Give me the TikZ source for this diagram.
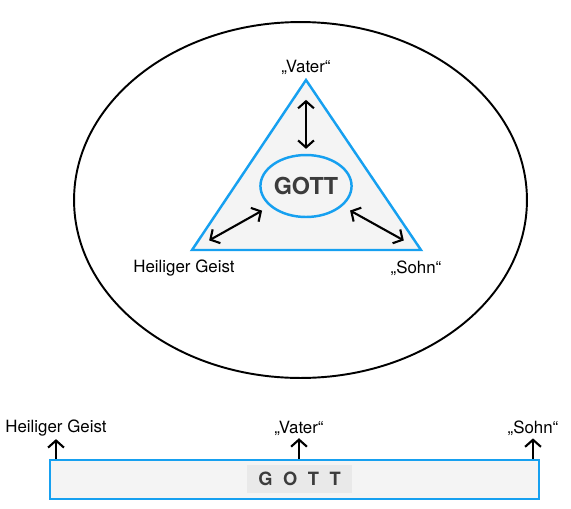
\documentclass[tikz,border=0pt]{standalone}
\usepackage{fontspec}
\setmainfont{TeX Gyre Heros}
\usetikzlibrary{arrows.meta, shapes.geometric}
\definecolor{lineblue}{RGB}{22,160,240}
\definecolor{panel}{RGB}{244,244,244}
\definecolor{gottbox}{RGB}{233,233,233}
\definecolor{gotttext}{RGB}{60,60,60}

\begin{document}
\begin{tikzpicture} [x=0.02cm, y=-0.02cm,
  >={Straight Barb[length=4pt, width=9pt]},
  lab/.style={font=\fontsize{9.6}{11}\selectfont, inner sep=1.5pt},
  arr/.style={line width=1.2pt},
  blueline/.style={draw=lineblue, line width=1.4pt, fill=panel}]
\useasboundingbox (0,0) rectangle (571,508);
\draw [line width=1.1pt] (300.5,200) ellipse [x radius=4.53cm, y radius=3.56cm];
\coordinate (top) at (306,80);
\coordinate (bl) at (192,250);
\coordinate (br) at (421,250);
\draw [blueline] (top) -- (bl) -- (br) -- cycle;
\node [ellipse, draw=lineblue, line width=1.4pt, minimum width=1.7cm, minimum height=1.24cm, inner sep=0pt, text=gotttext, font=\fontsize{13.3}{15}\selectfont\bfseries] (gott) at (306,186) {GOTT};
\node [lab] (vater) at (306,67) {„Vater“};
\node [lab] (geist) at (184,268) {Heiliger Geist};
\node [lab] (sohn) at (416,268) {„Sohn“};
\draw [arr, <->, shorten <=11.3pt, shorten >=2.8pt] (top) -- (gott);
\draw [arr, <->, shorten <=11.2pt, shorten >=5pt] (bl) -- (gott);
\draw [arr, <->, shorten <=11.2pt, shorten >=5pt] (br) -- (gott);
\node [blueline, minimum width=9.78cm, minimum height=0.78cm, inner sep=0pt] (bar) at (294.5,479.5) {};
\node [fill=gottbox, minimum width=2.1cm, minimum height=0.56cm, inner sep=0pt, text=gotttext, font=\fontsize{10.4}{12}\selectfont\bfseries] (gott2) at (299.5,479) {G\hspace{6pt}O\hspace{6pt}T\hspace{6pt}T};
\node [lab] (geist2) at (56,428) {Heiliger Geist};
\node [lab] (vater2) at (299,428) {„Vater“};
\node [lab] (sohn2) at (533,428) {„Sohn“};
\draw [arr, ->] (bar.north -| geist2) -- (geist2);
\draw [arr, ->] (bar.north -| vater2) -- (vater2);
\draw [arr, ->] (bar.north -| sohn2) -- (sohn2);
\end{tikzpicture}
\end{document}
